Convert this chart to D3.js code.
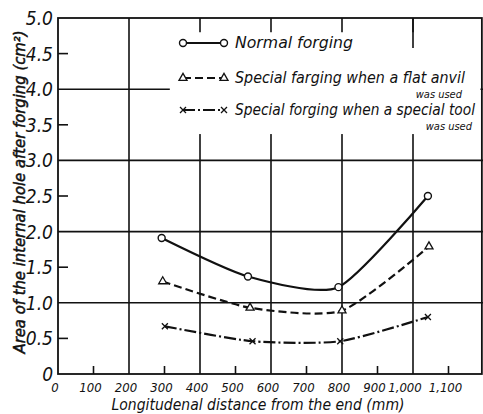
<!DOCTYPE html>
<html>
<head>
<meta charset="utf-8">
<script src="https://cdn.jsdelivr.net/npm/d3@7"></script>
<style>
  body { margin: 0; background: #fff; }
  text { font-family: "Liberation Sans Narrow", "DejaVu Sans Condensed", sans-serif; font-style: italic; fill: #111; }
</style>
</head>
<body>
<div id="chart"></div>
<script>
// data
var normalX = [292, 535, 790, 1042]
var normalY = [1.91, 1.37, 1.22, 2.5]
var anvilX = [295, 541, 800, 1045]
var anvilY = [1.3, 0.93, 0.89, 1.79]
var toolX = [301, 548, 795, 1042]
var toolY = [0.67, 0.46, 0.46, 0.8]

var xTicks = [0, 100, 200, 300, 400, 500, 600, 700, 800, 900, 1000, 1100]
var xTickLabels = ['0', '100', '200', '300', '400', '500', '600', '700', '800', '900', '1,000', '1,100']
var xGrid = [200, 400, 600, 800, 1000]
var xMinor = [100, 300, 500, 700, 900, 1100]
var yTicks = [0, 0.5, 1, 1.5, 2, 2.5, 3, 3.5, 4, 4.5, 5]
var yTickLabels = ['0', '0.5', '1.0', '1.5', '2.0', '2.5', '3.0', '3.5', '4.0', '4.5', '5.0']
var yGrid = [1, 2, 3, 4]
var yMinor = [0.5, 1.5, 2.5, 3.5, 4.5]

var legendLabels = ['Normal forging', 'Special farging when a flat anvil', 'Special forging when a special tool']
var legendSub = ['', 'was used', 'was used']

var svgWidth = 483
var svgHeight = 414

var x = d3.scaleLinear().domain([0, 1200]).range([58, 484])
var y = d3.scaleLinear().domain([0, 5]).range([374, 18])

var svg = d3.select('#chart')
    .append('svg')
    .attr('width', svgWidth)
    .attr('height', svgHeight)

svg.append('rect').attr('width', svgWidth).attr('height', svgHeight).attr('fill', '#fff')

var grid = svg.append('g').attr('stroke', '#111').attr('stroke-width', 1.6)

// full grid lines
grid.selectAll('.vg').data(xGrid).enter().append('line')
    .attr('x1', d => x(d)).attr('x2', d => x(d))
    .attr('y1', y(5)).attr('y2', y(0))
grid.selectAll('.hg').data(yGrid).enter().append('line')
    .attr('x1', x(0)).attr('x2', x(1200))
    .attr('y1', d => y(d)).attr('y2', d => y(d))

// minor ticks
grid.selectAll('.xm').data(xMinor).enter().append('line')
    .attr('x1', d => x(d)).attr('x2', d => x(d))
    .attr('y1', y(0)).attr('y2', y(0) - 8)
grid.selectAll('.ym').data(yMinor).enter().append('line')
    .attr('x1', x(0)).attr('x2', x(0) + 10)
    .attr('y1', d => y(d)).attr('y2', d => y(d))

// white patch behind legend
svg.append('rect')
    .attr('x', x(315)).attr('y', y(4.8))
    .attr('width', x(1190) - x(315)).attr('height', y(3.37) - y(4.8))
    .attr('fill', '#fff')
svg.append('line')
    .attr('x1', x(1000)).attr('x2', x(1000))
    .attr('y1', y(5)).attr('y2', y(4.58))
    .attr('stroke', '#111').attr('stroke-width', 1.6)

// frame
svg.append('rect')
    .attr('x', x(0)).attr('y', y(5))
    .attr('width', x(1194) - x(0)).attr('height', y(0) - y(5))
    .attr('fill', 'none').attr('stroke', '#111').attr('stroke-width', 1.8)

// tick labels
svg.selectAll('.xl').data(xTicks).enter().append('text')
    .attr('x', (d, i) => i === 10 ? x(d) - 8 : x(d) - 3)
    .attr('y', y(0) + 18)
    .attr('text-anchor', 'middle')
    .attr('font-size', 13)
    .text((d, i) => xTickLabels[i])

svg.selectAll('.yl').data(yTicks).enter().append('text')
    .attr('x', x(0) - 5)
    .attr('y', d => y(d) + 7)
    .attr('text-anchor', 'end')
    .attr('font-size', 19)
    .text((d, i) => yTickLabels[i])

// axis titles
svg.append('text')
    .attr('x', 258).attr('y', 410)
    .attr('text-anchor', 'middle')
    .attr('font-size', 15)
    .attr('textLength', 293).attr('lengthAdjust', 'spacingAndGlyphs')
    .text('Longitudenal distance from the end  (mm)')

svg.append('text')
    .attr('transform', 'translate(25,192) rotate(-90)')
    .attr('text-anchor', 'middle')
    .attr('font-size', 16)
    .attr('stroke', '#111').attr('stroke-width', 0.5)
    .attr('textLength', 323).attr('lengthAdjust', 'spacingAndGlyphs')
    .text('Area of the internal hole after forging (cm²)')

// series
var series = [
    {xs: normalX, ys: normalY, dash: null, mark: 'circle'},
    {xs: anvilX, ys: anvilY, dash: '8,4', mark: 'triangle'},
    {xs: toolX, ys: toolY, dash: '12,3,2,3', mark: 'cross'}
]

var line = d3.line()
    .x(d => x(d[0]))
    .y(d => y(d[1]))
    .curve(d3.curveCardinal.tension(0.35))

function drawMark(g, kind, cx, cy) {
    if (kind === 'circle') {
        g.append('circle').attr('cx', cx).attr('cy', cy).attr('r', 3.5)
            .attr('fill', '#fff').attr('stroke', '#111').attr('stroke-width', 1.4)
    } else if (kind === 'triangle') {
        g.append('path').attr('d', d3.symbol(d3.symbolTriangle, 28)())
            .attr('transform', `translate(${cx},${cy})`)
            .attr('fill', '#fff').attr('stroke', '#111').attr('stroke-width', 1.3)
    } else {
        g.append('path').attr('d', `M${cx - 3},${cy - 3}L${cx + 3},${cy + 3}M${cx - 3},${cy + 3}L${cx + 3},${cy - 3}`)
            .attr('stroke', '#111').attr('stroke-width', 1.3)
    }
}

series.forEach(function(s) {
    var pts = s.xs.map((v, i) => [v, s.ys[i]])
    svg.append('path')
        .attr('d', line(pts))
        .attr('fill', 'none')
        .attr('stroke', '#111')
        .attr('stroke-width', 2.2)
        .attr('stroke-dasharray', s.dash)
    var g = svg.append('g')
    pts.forEach(p => drawMark(g, s.mark, x(p[0]), y(p[1])))
})

// legend
var legY = [43, 78, 110]
var legLen = [118, 230, 240]
series.forEach(function(s, i) {
    var g = svg.append('g')
    g.append('line')
        .attr('x1', 183).attr('x2', 224)
        .attr('y1', legY[i]).attr('y2', legY[i])
        .attr('stroke', '#111').attr('stroke-width', 2)
        .attr('stroke-dasharray', s.dash)
    drawMark(g, s.mark, 183, legY[i])
    drawMark(g, s.mark, 224, legY[i])
    g.append('text')
        .attr('x', 235).attr('y', legY[i] + 5)
        .attr('font-size', 15)
        .attr('textLength', legLen[i]).attr('lengthAdjust', 'spacingAndGlyphs')
        .text(legendLabels[i])
    if (legendSub[i]) {
        g.append('text')
            .attr('x', 235 + legLen[i] - 3).attr('y', legY[i] + 20)
            .attr('text-anchor', 'end')
            .attr('font-size', 11)
            .text(legendSub[i])
    }
})
</script>
</body>
</html>
